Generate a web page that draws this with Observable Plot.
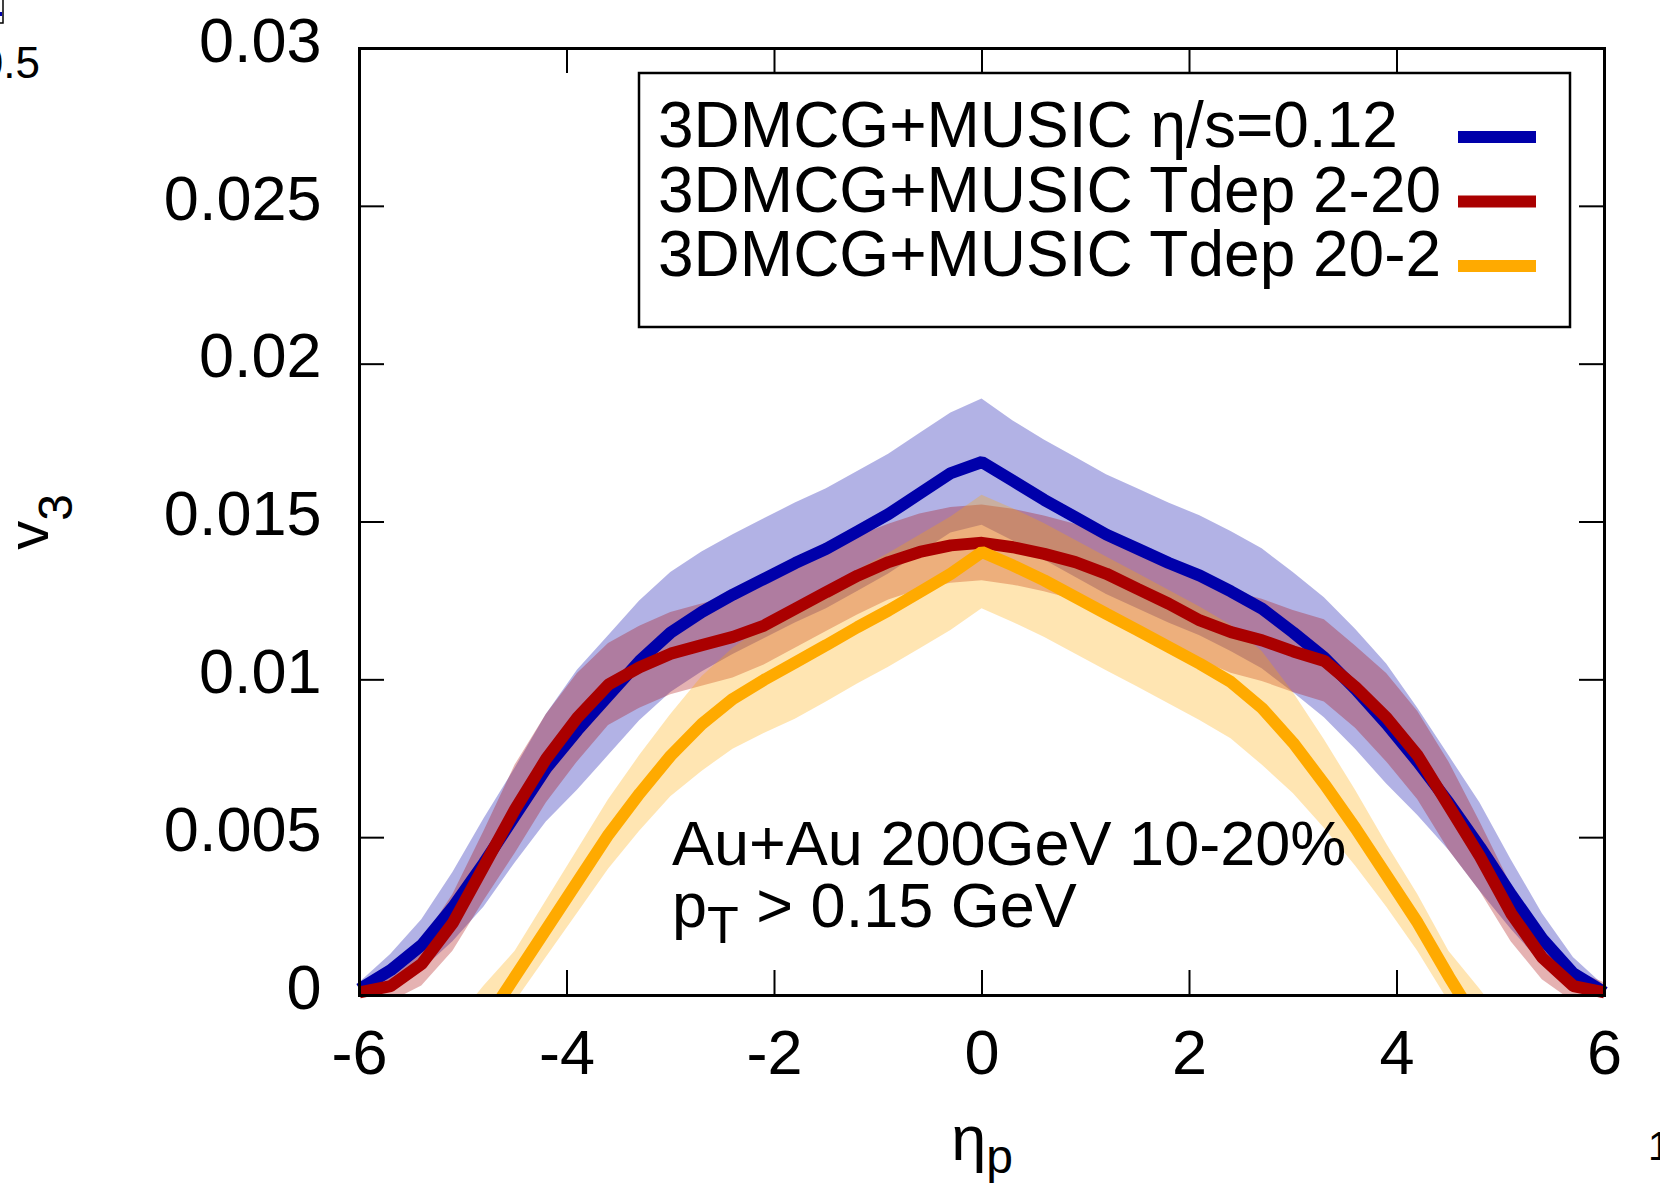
<!DOCTYPE html>
<html>
<head>
<meta charset="utf-8">
<script src="https://cdn.jsdelivr.net/npm/d3@7"></script>
<script src="https://cdn.jsdelivr.net/npm/@observablehq/plot@0.6"></script>
<style>
  html, body { margin: 0; padding: 0; background: #ffffff; }
  #chart { position: relative; width: 1660px; height: 1187px; overflow: hidden; }
  svg { font-family: "Liberation Sans", Arial, Helvetica, sans-serif; }
</style>
</head>
<body>
<div id="chart"></div>
<script>
// ---------------- data ----------------
const eta = [-6.0, -5.7, -5.4, -5.1, -4.8, -4.5, -4.2, -3.9, -3.6, -3.3, -3.0, -2.7, -2.4, -2.1, -1.8, -1.5, -1.2, -0.9, -0.6, -0.3,
             0.0, 0.3, 0.6, 0.9, 1.2, 1.5, 1.8, 2.1, 2.4, 2.7, 3.0, 3.3, 3.6, 3.9, 4.2, 4.5, 4.8, 5.1, 5.4, 5.7, 6.0];

const seriesNames = ["3DMCG+MUSIC η/s=0.12", "3DMCG+MUSIC Tdep 2-20", "3DMCG+MUSIC Tdep 20-2"];
const seriesColors = ["#0000aa", "#aa0000", "#ffaa00"];

// eta/s = 0.12
const v3Const = [0.0002, 0.0008, 0.0016, 0.0028, 0.0042, 0.0057, 0.0072, 0.0084, 0.0095, 0.0106, 0.0115, 0.01215, 0.0127, 0.0132, 0.0137, 0.01415, 0.0147, 0.01525, 0.0159, 0.01655,
                 0.0169, 0.0163, 0.0157, 0.01515, 0.0146, 0.01415, 0.0137, 0.0133, 0.0128, 0.01225, 0.0115, 0.0107, 0.0097, 0.0086, 0.0074, 0.0061, 0.0047, 0.0032, 0.0018, 0.0007, 0.0001];
const errConst = [0.0002, 0.0005, 0.0008, 0.0011, 0.0014, 0.0015, 0.0017, 0.0019, 0.0019, 0.0019, 0.0019, 0.0019, 0.0019, 0.0019, 0.0019, 0.0019, 0.0019, 0.0019, 0.0019, 0.0019,
                  0.0020, 0.0019, 0.0019, 0.0019, 0.0019, 0.0019, 0.0019, 0.0019, 0.0019, 0.0019, 0.0019, 0.0019, 0.0019, 0.0019, 0.0017, 0.0015, 0.0014, 0.0011, 0.0008, 0.0005, 0.0002];

// Tdep 2-20
const v3Tdep220 = [0.0001, 0.0003, 0.0010, 0.0023, 0.0041, 0.0059, 0.0075, 0.0088, 0.00985, 0.0104, 0.01083, 0.0111, 0.01136, 0.01172, 0.01225, 0.01278, 0.0133, 0.01373, 0.01405, 0.01426,
                   0.01434, 0.0142, 0.01399, 0.01373, 0.01336, 0.01288, 0.01241, 0.01188, 0.01151, 0.01125, 0.0109, 0.0106, 0.00977, 0.0088, 0.0076, 0.0060, 0.0044, 0.0026, 0.0012, 0.0003, 0.0001];
const errTdep220 = [0.0003, 0.0005, 0.0007, 0.0009, 0.0011, 0.0014, 0.0014, 0.0014, 0.0013, 0.0013, 0.0013, 0.0013, 0.0013, 0.00125, 0.00125, 0.00125, 0.00125, 0.0012, 0.0012, 0.0012,
                    0.0012, 0.0012, 0.0012, 0.0012, 0.00125, 0.00125, 0.00125, 0.00125, 0.0013, 0.0013, 0.0013, 0.0013, 0.0013, 0.0014, 0.0014, 0.0014, 0.0011, 0.0009, 0.0007, 0.0005, 0.0003];

// Tdep 20-2
const v3Tdep202 = [-0.0045, -0.0038, -0.0030, -0.0020, -0.0009, 0.0006, 0.0021, 0.0036, 0.0051, 0.0064, 0.0076, 0.0086, 0.0094, 0.0100, 0.01055, 0.0111, 0.01167, 0.0122, 0.01278, 0.01336,
                   0.01405, 0.01362, 0.01315, 0.01262, 0.01209, 0.01157, 0.01104, 0.01051, 0.00993, 0.0091, 0.0080, 0.0067, 0.0053, 0.0038, 0.0023, 0.0006, -0.0010, -0.0022, -0.0032, -0.0040, -0.0046];
const errTdep202 = [0.0010, 0.0010, 0.0010, 0.0011, 0.0012, 0.0008, 0.0009, 0.0010, 0.0011, 0.0012, 0.0013, 0.0015, 0.0016, 0.0017, 0.0018, 0.0018, 0.0018, 0.0018, 0.0018, 0.0018,
                    0.0018, 0.0018, 0.0018, 0.0018, 0.0018, 0.0018, 0.0018, 0.0018, 0.0018, 0.0018, 0.0016, 0.0014, 0.0012, 0.0010, 0.0009, 0.0008, 0.0012, 0.0011, 0.0010, 0.0010, 0.0010];

const xTicks = [-6, -4, -2, 0, 2, 4, 6];
const yTicks = [0, 0.005, 0.01, 0.015, 0.02, 0.025, 0.03];

// ---------------- table ----------------
const seriesValues = [v3Const, v3Tdep220, v3Tdep202];
const seriesErrors = [errConst, errTdep220, errTdep202];
const rows = [];
seriesValues.forEach((vals, k) => {
  eta.forEach((e, i) => {
    rows.push({k, eta: e, v: vals[i], lo: vals[i] - seriesErrors[k][i], hi: vals[i] + seriesErrors[k][i]});
  });
});

// ---------------- layout ----------------
const W = 1660, H = 1187;
const mL = 359, mR = 56, mT = 48, mB = 192;
const innerW = W - mL - mR, innerH = H - mT - mB;
const FONT = "'Liberation Sans', Arial, Helvetica, sans-serif";
const tickLen = 25;

const marks = [];
[0, 1, 2].forEach(k => {
  marks.push(Plot.areaY(rows.filter(d => d.k === k), {
    x: "eta", y1: "lo", y2: "hi", fill: seriesColors[k], fillOpacity: 0.3, clip: true
  }));
});
[0, 1, 2].forEach(k => {
  marks.push(Plot.line(rows.filter(d => d.k === k), {
    x: "eta", y: "v", stroke: seriesColors[k], strokeWidth: 12,
    strokeLinejoin: "miter", strokeLinecap: "butt", clip: k === 2
  }));
});
// inward ticks on all four sides
marks.push(Plot.tickY(yTicks, {y: d => d, insetRight: innerW - tickLen, stroke: "black", strokeWidth: 2}));
marks.push(Plot.tickY(yTicks, {y: d => d, insetLeft: innerW - tickLen, stroke: "black", strokeWidth: 2}));
marks.push(Plot.tickX(xTicks, {x: d => d, insetTop: innerH - tickLen, stroke: "black", strokeWidth: 2}));
marks.push(Plot.tickX(xTicks, {x: d => d, insetBottom: innerH - tickLen, stroke: "black", strokeWidth: 2}));
marks.push(Plot.axisX({ticks: xTicks, tickSize: 0, tickPadding: 34, tickFormat: d => String(d), fontSize: 63, label: null}));
marks.push(Plot.axisY({ticks: yTicks, tickSize: 0, tickPadding: 38, tickFormat: d => String(d), fontSize: 63, dy: -7, label: null}));
marks.push(Plot.frame({stroke: "black", strokeWidth: 3}));

const plot = Plot.plot({
  width: W, height: H,
  marginLeft: mL, marginRight: mR, marginTop: mT, marginBottom: mB,
  x: {domain: [-6, 6]},
  y: {domain: [0, 0.03]},
  style: {fontFamily: FONT, fontSize: "63px", background: "#ffffff", color: "#000000", overflow: "visible"},
  marks
});
document.getElementById("chart").appendChild(plot);

// ---------------- texts, legend ----------------
const svg = d3.select(plot);
const g = svg.append("g").attr("font-family", FONT).attr("fill", "black").attr("text-anchor", "start");

// legend
const leg = g.append("g");
leg.append("rect").attr("x", 639).attr("y", 73).attr("width", 931).attr("height", 254)
  .attr("fill", "none").attr("stroke", "black").attr("stroke-width", 2.5);
seriesNames.forEach((name, k) => {
  leg.append("text").attr("x", 658).attr("y", 147 + 64.5 * k).attr("font-size", 64)
    .attr("text-anchor", "start").text(name);
  leg.append("line").attr("x1", 1458).attr("x2", 1536)
    .attr("y1", 137 + 64.5 * k).attr("y2", 137 + 64.5 * k)
    .attr("stroke", seriesColors[k]).attr("stroke-width", 12);
});

// annotation
g.append("text").attr("x", 672).attr("y", 865).attr("font-size", 63).attr("text-anchor", "start")
  .text("Au+Au 200GeV 10-20%");
const pt = g.append("text").attr("x", 672).attr("y", 927).attr("font-size", 63).attr("text-anchor", "start");
pt.append("tspan").text("p");
pt.append("tspan").attr("font-size", 52).attr("dy", 16).text("T");
pt.append("tspan").attr("dy", -16).text(" > 0.15 GeV");

// axis labels
const yl = g.append("text").attr("transform", "translate(48,522) rotate(-90)")
  .attr("text-anchor", "middle").attr("font-size", 58);
yl.append("tspan").text("v");
yl.append("tspan").attr("font-size", 48).attr("dy", 24).text("3");

const xl = g.append("text").attr("x", 982).attr("y", 1160).attr("text-anchor", "middle").attr("font-size", 63);
xl.append("tspan").text("η");
xl.append("tspan").attr("font-size", 48).attr("dy", 13).text("p");

// neighbouring-panel fragments at the crop edges
g.append("text").attr("x", 40).attr("y", 78).attr("text-anchor", "end").attr("font-size", 44).text("0.5");
g.append("rect").attr("x", -20).attr("y", -10).attr("width", 23).attr("height", 33)
  .attr("fill", "none").attr("stroke", "black").attr("stroke-width", 1.5);
g.append("line").attr("x1", -20).attr("x2", 2).attr("y1", 14).attr("y2", 14)
  .attr("stroke", "#0000aa").attr("stroke-width", 4);
g.append("text").attr("x", 1648).attr("y", 1160).attr("font-size", 40).attr("text-anchor", "start").text("1");
</script>
</body>
</html>
